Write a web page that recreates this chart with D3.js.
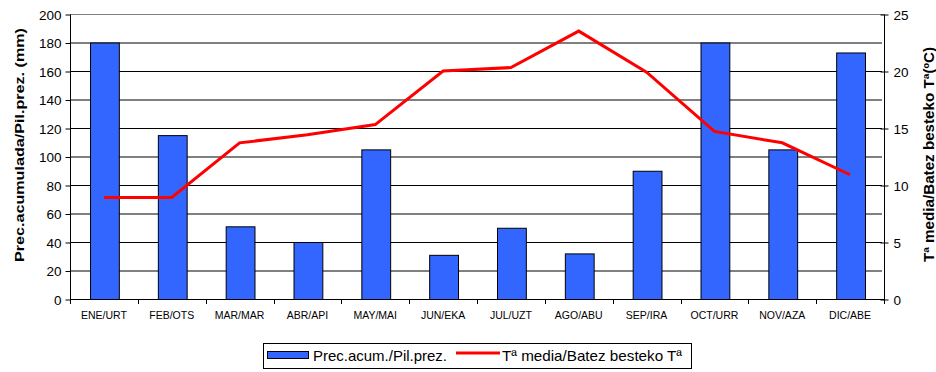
<!DOCTYPE html>
<html><head><meta charset="utf-8">
<script src="https://cdn.jsdelivr.net/npm/d3@7"></script>
<style>
body{margin:0;background:#fff;}
svg{display:block;font-family:"Liberation Sans",Arial,sans-serif;}
</style></head>
<body><svg id="c" width="936" height="372"></svg>
<script>
const months = ["ENE/URT","FEB/OTS","MAR/MAR","ABR/API","MAY/MAI","JUN/EKA","JUL/UZT","AGO/ABU","SEP/IRA","OCT/URR","NOV/AZA","DIC/ABE"];
const precip = [180,115,51,40,105,31,50,32,90,180,105,173];
const temp = [8.9,8.9,13.7,14.4,15.3,20.0,20.3,23.5,19.9,14.7,13.7,10.9];
const leftTicks = [0,20,40,60,80,100,120,140,160,180,200];
const rightTicks = [0,5,10,15,20,25];

const svg = d3.select("#c");
const L = 70, R = 884, T = 14, B = 299;
const x = d3.scaleBand().domain(months).range([L, R]).paddingInner(0.59).paddingOuter(0.295);
const xc = d3.scalePoint().domain(months).range([L, R]).padding(0.5);
const yL = d3.scaleLinear().domain([0,200]).range([B, T]);
const yR = d3.scaleLinear().domain([0,25]).range([B, T]);

// gridlines
svg.append("g").selectAll("line").data(leftTicks.filter(d=>d>0 && d<200)).join("line")
  .attr("x1", L).attr("x2", R-2).attr("y1", d=>yL(d)+0.5).attr("y2", d=>yL(d)+0.5)
  .attr("stroke","#000").attr("stroke-width",1);
svg.append("line").attr("x1",L).attr("x2",R).attr("y1",T+0.5).attr("y2",T+0.5)
  .attr("stroke","#808080").attr("stroke-width",1);

// bars
svg.append("g").selectAll("rect").data(precip).join("rect")
  .attr("x",(d,i)=>x(months[i])+0.5).attr("width",x.bandwidth()+1)
  .attr("y",d=>yL(d)+0.5).attr("height",d=>B-yL(d))
  .attr("fill","#3366FF").attr("stroke","#000").attr("stroke-width",1);

// left axis
const ax = d3.axisLeft(yL).tickValues(leftTicks).tickSize(5).tickPadding(4);
const gL = svg.append("g").attr("transform",`translate(${L+0.5},0.5)`).call(ax);
gL.select(".domain").attr("stroke","#000").attr("d",`M0,${T}V${B}`);
gL.selectAll(".tick line").attr("stroke","#000");
gL.selectAll("text").attr("font-size","13.5px").attr("fill","#000").attr("dy","0.35em");

// right axis
const ar = d3.axisRight(yR).tickValues(rightTicks).tickSize(4).tickPadding(5);
const gR = svg.append("g").attr("transform",`translate(${R+0.5},0.5)`).call(ar);
gR.select(".domain").attr("stroke","#000").attr("d",`M0,${T}V${B}`);
gR.selectAll(".tick line").attr("stroke","#000").attr("x1",-4);
gR.selectAll("text").attr("font-size","13.5px").attr("fill","#000").attr("dy","0.35em");

// bottom axis
const ab = d3.axisBottom(x).tickSize(0).tickPadding(12);
const gB = svg.append("g").attr("transform",`translate(0,${B+0.5})`).call(ab);
gB.select(".domain").attr("stroke","#000").attr("d",`M${L},0H${R}`);
gB.selectAll("text").attr("font-size","10.5px").attr("fill","#000");
const bounds = months.map((m,i)=>L + i*(R-L)/12).concat([R]);
svg.append("g").selectAll("line").data(bounds).join("line")
  .attr("x1",d=>Math.round(d)+0.5).attr("x2",d=>Math.round(d)+0.5)
  .attr("y1",B).attr("y2",B+5).attr("stroke","#000");

// temperature line
const line = d3.line().x((d,i)=>xc(months[i])).y(d=>yR(d));
svg.append("path").datum(temp).attr("d",line).attr("fill","none")
  .attr("stroke","#FF0000").attr("stroke-width",3).attr("stroke-linejoin","miter");

// axis titles
svg.append("text").attr("transform",`translate(24,145) rotate(-90)`)
  .attr("text-anchor","middle").attr("font-size","13.5px").attr("font-weight","bold")
  .attr("textLength",234).attr("lengthAdjust","spacingAndGlyphs")
  .text("Prec.acumulada/Pil.prez. (mm)");
svg.append("text").attr("transform",`translate(934,154.5) rotate(-90)`)
  .attr("text-anchor","middle").attr("font-size","14px").attr("font-weight","bold")
  .attr("textLength",215).attr("lengthAdjust","spacingAndGlyphs")
  .text("Tª media/Batez besteko Tª(ºC)");

// legend
const lg = svg.append("g");
lg.append("rect").attr("x",263.5).attr("y",343.5).attr("width",428).attr("height",25)
  .attr("fill","#fff").attr("stroke","#000").attr("stroke-width",1);
lg.append("rect").attr("x",267.5).attr("y",351.5).attr("width",41).attr("height",7)
  .attr("fill","#3366FF").attr("stroke","#000").attr("stroke-width",1);
lg.append("text").attr("x",313).attr("y",361).attr("font-size","14.5px")
  .attr("textLength",134).attr("lengthAdjust","spacingAndGlyphs").text("Prec.acum./Pil.prez.");
lg.append("line").attr("x1",456).attr("x2",500).attr("y1",353).attr("y2",353)
  .attr("stroke","#FF0000").attr("stroke-width",3);
lg.append("text").attr("x",502).attr("y",361).attr("font-size","14.5px")
  .attr("textLength",180).attr("lengthAdjust","spacingAndGlyphs").text("Tª media/Batez besteko Tª");
</script></body></html>
